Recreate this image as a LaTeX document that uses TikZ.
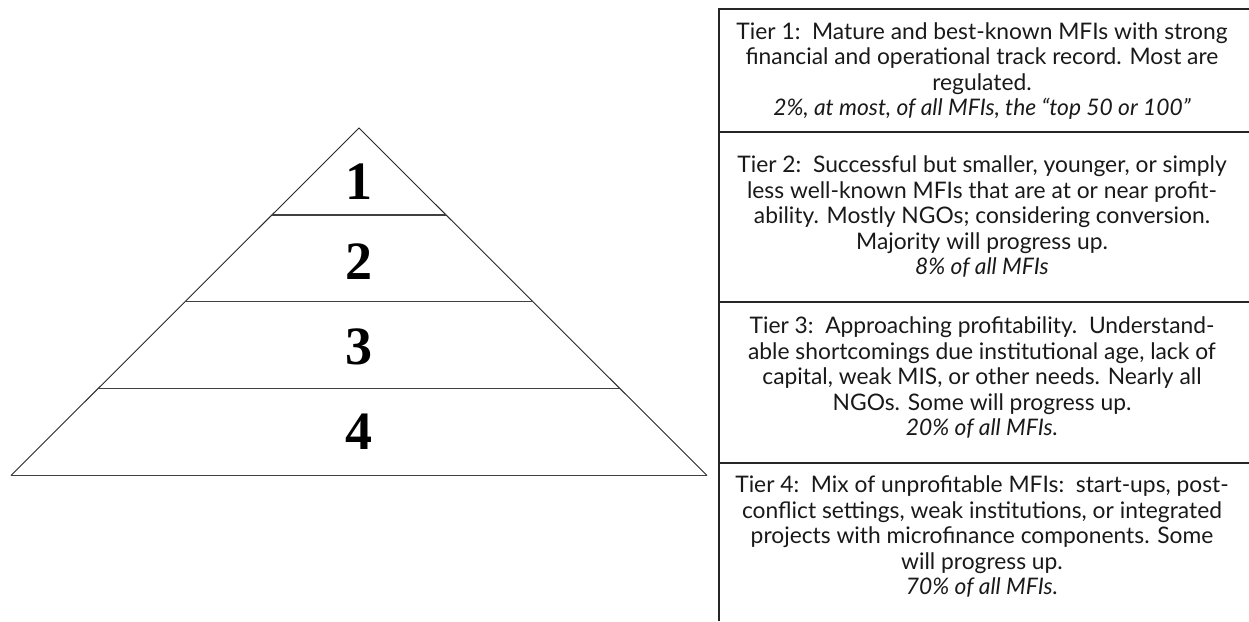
\documentclass[tikz,border=0pt]{standalone}
\usepackage{fontspec}
\setmainfont{Lato}
\newfontfamily\digitfont{Liberation Serif}
\usetikzlibrary{calc}
\tikzset{
  pyr/.style={line width=0.9pt, draw=black!85},
  pyrdiv/.style={line width=1.4pt, draw=black!75},
  tab/.style={line width=1.5pt, draw=black!85},
  tiernum/.style={font=\digitfont\bfseries\fontsize{54}{54}\selectfont, inner sep=0pt},
  tiertext/.style={align=center, inner sep=0pt, text=black!90,
    font=\fontsize{22.8}{25.5}\selectfont}
}
\begin{document}
\begin{tikzpicture}[x=1pt,y=-1pt]
\useasboundingbox (0,0) rectangle (1249,621);
% pyramid
\coordinate (apex) at (359,128);
\coordinate (bl) at (11,475.5);
\coordinate (br) at (707,475.5);
\draw[pyr] (bl) -- (apex) -- (br);
\draw[pyrdiv] (bl) -- (br);
\foreach \t/\n in {0.25/a,0.5/b,0.75/c}{
  \coordinate (l\n) at ($(apex)!\t!(bl)$);
  \coordinate (r\n) at ($(apex)!\t!(br)$);
  \draw[pyrdiv] (l\n) -- (r\n);
}
\node[tiernum] (n1) at (359,182) {1};
\node[tiernum] (n2) at (359,262) {2};
\node[tiernum] (n3) at (359,347) {3};
\node[tiernum] (n4) at (359,432) {4};
% table
\coordinate (tl) at (719,9);
\coordinate (tr) at (1249,9);
\coordinate (bt) at (719,621);
\coordinate (d1l) at (719,132); \coordinate (d1r) at (1249,132);
\coordinate (d2l) at (719,302); \coordinate (d2r) at (1249,302);
\coordinate (d3l) at (719,463); \coordinate (d3r) at (1249,463);
\draw[tab] (tr) -- (tl) -- (bt);
\draw[tab] (d1l) -- (d1r);
\draw[tab] (d2l) -- (d2r);
\draw[tab] (d3l) -- (d3r);
\node[tiertext] (t1) at (982,71) {Tier 1:\ \ Mature and best-known MFIs with strong\\
financial and operational track record. Most are\\
regulated.\\
\itshape 2\%, at most, of all MFIs, the “top 50 or 100"};
\node[tiertext] (t2) at (982,217) {Tier 2:\ \ Successful but smaller, younger, or simply\\
less well-known MFIs that are at or near profit-\\
ability. Mostly NGOs; considering conversion.\\
Majority will progress up.\\
\itshape 8\% of all MFIs};
\node[tiertext] (t3) at (982,378) {Tier 3:\ \ Approaching profitability.\ \ Understand-\\
able shortcomings due institutional age, lack of\\
capital, weak MIS, or other needs. Nearly all\\
NGOs. Some will progress up.\\
\itshape 20\% of all MFIs.};
\node[tiertext] (t4) at (982,537) {Tier 4:\ \ Mix of unprofitable MFIs:\ \ start-ups, post-\\
conflict settings, weak institutions, or integrated\\
projects with microfinance components. Some\\
will progress up.\\
\itshape 70\% of all MFIs.};
\end{tikzpicture}
\end{document}
